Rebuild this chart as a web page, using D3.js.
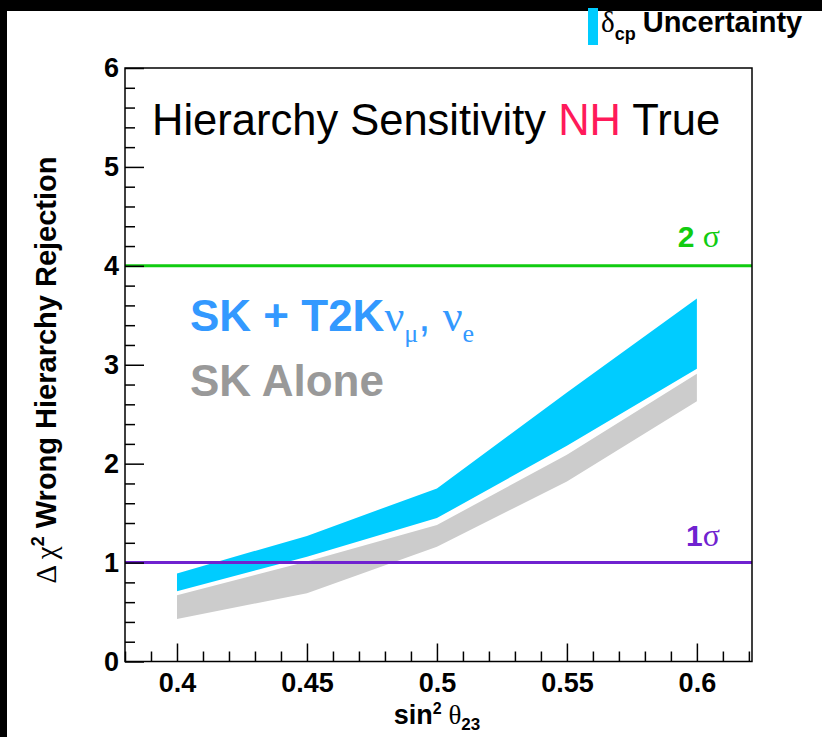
<!DOCTYPE html>
<html>
<head>
<meta charset="utf-8">
<script src="https://cdn.jsdelivr.net/npm/d3@7"></script>
<style>
  html, body { margin: 0; padding: 0; background: #fff; }
  svg { display: block; }
  text { font-family: "Liberation Sans", Arial, Helvetica, sans-serif; }
  .greek { font-family: "Liberation Serif", "Times New Roman", serif; }
</style>
</head>
<body>
<svg id="chart" width="822" height="737"></svg>
<script>
// ---- data ----
const sin2Theta23 = [0.40, 0.45, 0.50, 0.55, 0.60];
const skT2kUpper  = [0.89, 1.27, 1.75, 2.72, 3.67];
const skT2kLower  = [0.71, 1.06, 1.45, 2.18, 2.96];
const skAloneUpper = [0.67, 1.01, 1.38, 2.09, 2.91];
const skAloneLower = [0.43, 0.69, 1.16, 1.82, 2.63];
const xTickValues = [0.40, 0.45, 0.50, 0.55, 0.60];
const xTickLabels = ["0.4", "0.45", "0.5", "0.55", "0.6"];
const yTickValues = [0, 1, 2, 3, 4, 5, 6];
const sigmaLevels = [1, 4];
const sigmaNumbers = ["1", "2 "];

// ---- layout ----
const svg = d3.select("#chart");
const W = 822, H = 737;
const plot = { left: 125, right: 752, top: 68, bottom: 661.5 };

svg.append("rect").attr("width", W).attr("height", H).attr("fill", "#fff");
// black border strips of the original image
svg.append("rect").attr("x", 0).attr("y", 0).attr("width", W).attr("height", 11).attr("fill", "#000");
svg.append("rect").attr("x", 0).attr("y", 0).attr("width", 7).attr("height", H).attr("fill", "#000");

const x = d3.scaleLinear().domain([0.38, 0.6212]).range([plot.left, plot.right]);
const y = d3.scaleLinear().domain([0, 6]).range([plot.bottom, plot.top]);

// ---- bands ----
const bandData = (up, lo) => sin2Theta23.map((s, i) => ({ s, up: up[i], lo: lo[i] }));
const area = d3.area().x(d => x(d.s)).y0(d => y(d.lo)).y1(d => y(d.up)).curve(d3.curveLinear);

svg.append("path").datum(bandData(skAloneUpper, skAloneLower))
  .attr("d", area).attr("fill", "#cccccc");
svg.append("path").datum(bandData(skT2kUpper, skT2kLower))
  .attr("d", area).attr("fill", "#00ccff");

// ---- sigma lines ----
const sigmaColors = ["#7022d0", "#11cc11"];
sigmaLevels.forEach((v, i) => {
  svg.append("line")
    .attr("x1", plot.left).attr("x2", plot.right)
    .attr("y1", y(v)).attr("y2", y(v))
    .attr("stroke", sigmaColors[i]).attr("stroke-width", 3);
  const t = svg.append("text").attr("x", 720).attr("y", y(v) - (i === 0 ? 17 : 19))
    .attr("text-anchor", "end").attr("font-size", 30).attr("font-weight", "bold")
    .attr("fill", sigmaColors[i]);
  t.append("tspan").text(sigmaNumbers[i]);
  t.append("tspan").attr("class", "greek").attr("font-weight", "normal").attr("font-size", 32).text("\u03C3");
});

// ---- axes ----
const yMinor = d3.range(0, 6.0001, 0.2).filter(v => Math.abs(v - Math.round(v)) > 1e-6);
const xMinor = d3.range(0.38, 0.62001, 0.01).filter(v => Math.abs(v * 20 - Math.round(v * 20)) > 1e-6);

const yAxisMajor = d3.axisLeft(y).tickValues(yTickValues).tickSize(-19).tickPadding(6).tickFormat(d3.format("d"));
const yAxisMinor = d3.axisLeft(y).tickValues(yMinor).tickSize(-10).tickFormat("");
const xAxisMajor = d3.axisBottom(x).tickValues(xTickValues).tickSize(-18).tickPadding(11)
  .tickFormat((d, i) => xTickLabels[i]);
const xAxisMinor = d3.axisBottom(x).tickValues(xMinor).tickSize(-10).tickFormat("");

function styleAxis(g) {
  g.select(".domain").remove();
  g.selectAll("line").attr("stroke", "#000").attr("stroke-width", 1.5);
  g.selectAll("text").attr("font-size", 27).attr("font-weight", "bold")
    .attr("fill", "#000").attr("font-family", "'Liberation Sans', Arial, sans-serif");
}
svg.append("g").attr("transform", `translate(${plot.left},0)`).call(yAxisMinor).call(styleAxis);
svg.append("g").attr("transform", `translate(${plot.left},0)`).call(yAxisMajor).call(styleAxis);
svg.append("g").attr("transform", `translate(0,${plot.bottom})`).call(xAxisMinor).call(styleAxis);
svg.append("g").attr("transform", `translate(0,${plot.bottom})`).call(xAxisMajor).call(styleAxis);

// frame
svg.append("rect")
  .attr("x", plot.left).attr("y", plot.top)
  .attr("width", plot.right - plot.left).attr("height", plot.bottom - plot.top)
  .attr("fill", "none").attr("stroke", "#000").attr("stroke-width", 1.5);

// ---- axis titles ----
const yt = svg.append("text")
  .attr("transform", "translate(56,370) rotate(-90)")
  .attr("text-anchor", "middle").attr("font-size", 29).attr("font-weight", "bold").attr("fill", "#000");
yt.append("tspan").attr("class", "greek").attr("font-weight", "normal").text("\u0394 \u03C7");
yt.append("tspan").attr("font-size", 18).attr("dy", -12).text("2");
yt.append("tspan").attr("dy", 12).text(" Wrong Hierarchy Rejection");

const xt = svg.append("text")
  .attr("x", 437).attr("y", 724)
  .attr("text-anchor", "middle").attr("font-size", 27).attr("font-weight", "bold").attr("fill", "#000");
xt.append("tspan").text("sin");
xt.append("tspan").attr("font-size", 16).attr("dy", -10).text("2");
xt.append("tspan").attr("class", "greek").attr("dy", 10).attr("font-weight", "normal").text(" \u03B8");
xt.append("tspan").attr("font-size", 17).attr("dy", 6).text("23");

// ---- title ----
const title = svg.append("text").attr("x", 152).attr("y", 135).attr("font-size", 43.5).attr("fill", "#000");
title.append("tspan").text("Hierarchy Sensitivity ");
title.append("tspan").attr("fill", "#ff1a5a").text("NH");
title.append("tspan").text(" True");

// ---- in-plot legend ----
const l1 = svg.append("text").attr("x", 190).attr("y", 331)
  .attr("font-size", 44).attr("font-weight", "bold").attr("fill", "#3399ff");
l1.append("tspan").text("SK + T2K");
l1.append("tspan").attr("class", "greek").attr("font-weight", "normal").text("\u03BD");
l1.append("tspan").attr("class", "greek").attr("font-size", 26).attr("font-weight", "normal").attr("dy", 11).text("\u03BC");
l1.append("tspan").attr("dy", -11).attr("font-weight", "normal").text(", ");
l1.append("tspan").attr("class", "greek").attr("font-weight", "normal").text("\u03BD");
l1.append("tspan").attr("class", "greek").attr("font-size", 26).attr("font-weight", "normal").attr("dy", 11).text("e");

svg.append("text").attr("x", 190).attr("y", 396)
  .attr("font-size", 44).attr("font-weight", "bold").attr("fill", "#999999").text("SK Alone");

// ---- top-right legend ----
svg.append("rect").attr("x", 588).attr("y", 8).attr("width", 10).attr("height", 37).attr("fill", "#00ccff");
const tl = svg.append("text").attr("x", 601).attr("y", 32).attr("font-size", 29).attr("fill", "#000");
tl.append("tspan").attr("class", "greek").text("\u03B4");
tl.append("tspan").attr("font-size", 18).attr("font-weight", "bold").attr("dy", 8).text("cp");
tl.append("tspan").attr("font-weight", "bold").attr("dy", -8).attr("dx", 7).text("Uncertainty");
</script>
</body>
</html>
